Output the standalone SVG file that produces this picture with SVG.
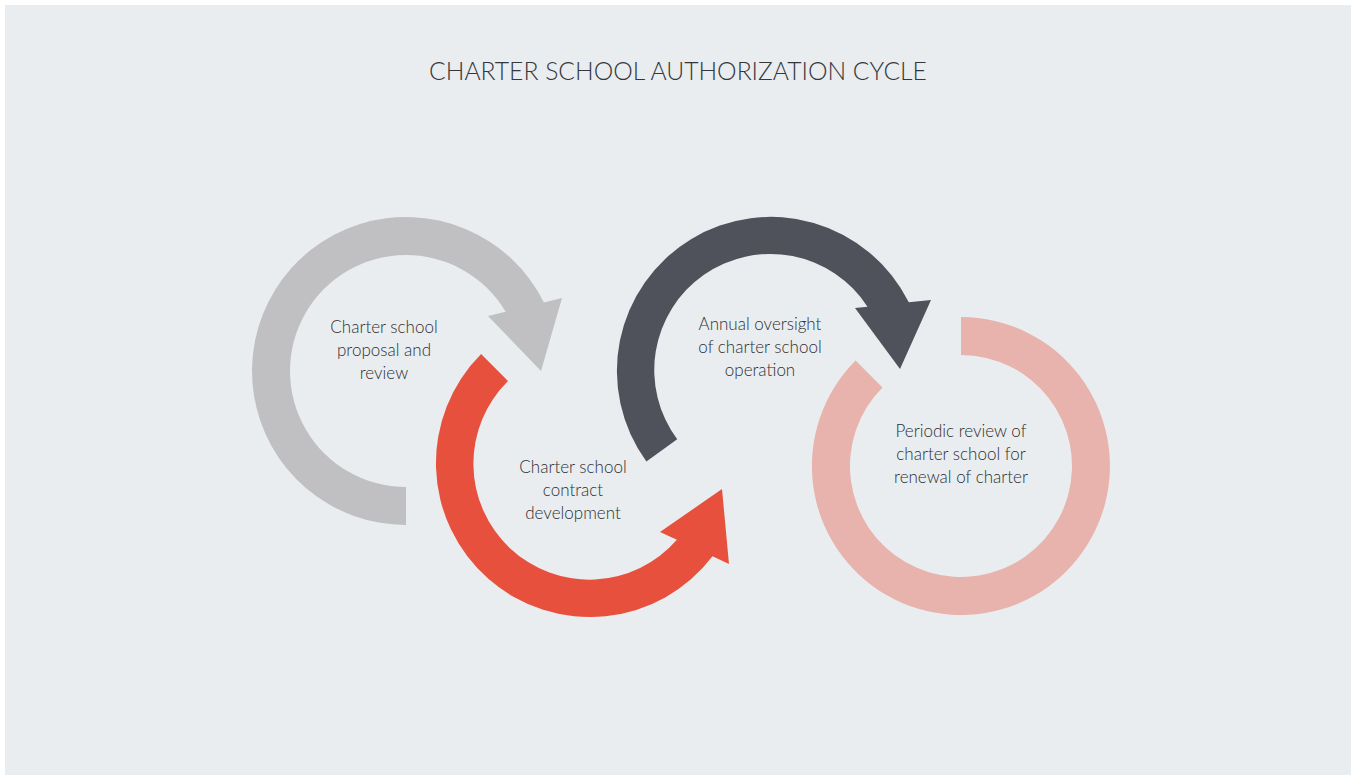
<svg xmlns="http://www.w3.org/2000/svg" width="1351" height="775" viewBox="0 0 1351 775">
  <style>
    .title { font-family: Lato, "Open Sans", "Liberation Sans", sans-serif; font-weight: 300; font-size: 24.7px; fill: #36373b; text-anchor: middle; }
    .label { font-family: Lato, "Open Sans", "Liberation Sans", sans-serif; font-weight: 300; font-size: 17px; fill: #2e2f33; text-anchor: middle; }
  </style>
  <rect width="1351" height="775" fill="#ffffff"/>
  <rect x="5" y="5" width="1346" height="770" fill="#e9edef"/>

  <text class="title" x="678" y="80">CHARTER SCHOOL AUTHORIZATION CYCLE</text>

  <g id="connectors">
    <!-- gray: proposal -> contract -->
    <path id="arc-proposal" fill="#c0bfc1" d="M406,525 A154,154 0 1,1 543.9,302.4 L562,298 L541,371 L488,316 L505.7,311.7 A116,116 0 1,0 406,487 Z"/>
    <!-- red: contract -> oversight -->
    <path id="arc-contract" fill="#e8503e" d="M481.1,354.1 A154,154 0 1,0 712.5,556.3 L729,564 L722,489 L660,532 L676.9,539.8 A116,116 0 1,1 508,381 Z"/>
    <!-- dark: oversight -> renewal -->
    <path id="arc-oversight" fill="#50525b" d="M646.4,461.5 A154,154 0 1,1 908.8,302.3 L931,300 L900,369 L855,308 L867.5,306.7 A116,116 0 1,0 677.2,439.2 Z"/>
    <!-- pink: renewal ring -->
    <path id="arc-renewal" fill="#e7b3ac" d="M855.6,360.6 A149,149 0 1,0 961,317 L961,355 A111,111 0 1,1 882.5,387.5 Z"/>
  </g>

  <g id="node-proposal">
    <text class="label" x="384" y="333">Charter school</text>
    <text class="label" x="384" y="356">proposal and</text>
    <text class="label" x="384" y="379">review</text>
  </g>
  <g id="node-contract">
    <text class="label" x="573" y="473">Charter school</text>
    <text class="label" x="573" y="496">contract</text>
    <text class="label" x="573" y="519">development</text>
  </g>
  <g id="node-oversight">
    <text class="label" x="760" y="330">Annual oversight</text>
    <text class="label" x="760" y="353">of charter school</text>
    <text class="label" x="760" y="376">operation</text>
  </g>
  <g id="node-renewal">
    <text class="label" x="961" y="437">Periodic review of</text>
    <text class="label" x="961" y="460">charter school for</text>
    <text class="label" x="961" y="483">renewal of charter</text>
  </g>
</svg>
